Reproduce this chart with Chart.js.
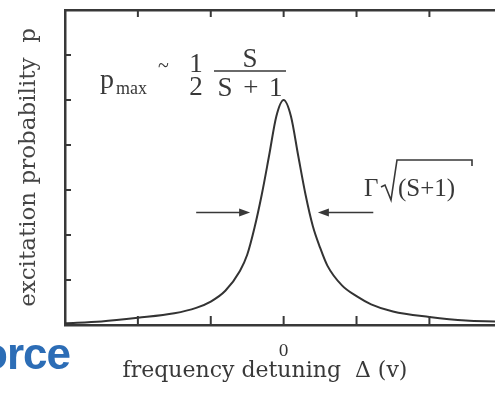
<!DOCTYPE html>
<html>
<head>
<meta charset="utf-8">
<script src="https://cdn.jsdelivr.net/npm/chart.js@4/dist/chart.umd.min.js"></script>
<style>
  html, body { margin: 0; padding: 0; background: #fff; overflow: hidden; }
  #wrap { width: 495px; height: 395px; }
</style>
</head>
<body>
<div id="wrap"><canvas id="resonance" width="495" height="395"></canvas></div>
<script>
// detuning in units of the tick spacing, probability
const detuning = [-3, -2.5, -2, -1.5, -1.2, -1, -0.8, -0.6, -0.5, -0.4, -0.3, -0.2, -0.1, 0,
                  0.1, 0.2, 0.3, 0.4, 0.5, 0.6, 0.8, 1, 1.2, 1.5, 2, 2.5, 2.9];
const probability = [0.002, 0.004, 0.008, 0.013, 0.019, 0.026, 0.038, 0.060, 0.078, 0.108, 0.145, 0.188, 0.232, 0.250,
                     0.232, 0.188, 0.145, 0.110, 0.086, 0.066, 0.044, 0.032, 0.023, 0.015, 0.009, 0.005, 0.004];
const xTickLabels = { 0: '0' };
const halfMax = 0.125;
const leftArrow = [-1.2, -0.46];   // tail, tip
const rightArrow = [1.23, 0.47];

const ink = '#383838';
const serif = '"DejaVu Serif", serif';
const times = '"Liberation Serif", "Times New Roman", serif';

const ctx = document.getElementById('resonance');

function line(c, x1, y1, x2, y2) {
    c.beginPath();
    c.moveTo(x1, y1);
    c.lineTo(x2, y2);
    c.stroke();
}

function arrow(c, x1, x2, y) {
    const dir = Math.sign(x2 - x1);
    line(c, x1, y, x2 - dir * 6, y);
    c.beginPath();
    c.moveTo(x2, y);
    c.lineTo(x2 - dir * 11, y - 4);
    c.lineTo(x2 - dir * 11, y + 4);
    c.closePath();
    c.fill();
}

function text(c, s, x, y, font, align) {
    c.font = font;
    c.textAlign = align || 'left';
    c.textBaseline = 'alphabetic';
    c.fillText(s, x, y);
}

const decorations = {
    id: 'decorations',
    afterDraw(chart) {
        const c = chart.ctx;
        const a = chart.chartArea;
        const xs = chart.scales.x;
        const ys = chart.scales.y;
        c.save();
        c.strokeStyle = ink;
        c.fillStyle = ink;

        // inward tick marks
        c.lineWidth = 2;
        xs.ticks.forEach(t => {
            if (!Number.isInteger(t.value) || t.value <= xs.min || t.value >= xs.max) return;
            const px = xs.getPixelForValue(t.value);
            line(c, px, a.bottom, px, a.bottom - 9);
            line(c, px, a.top, px, a.top + 7);
        });
        ys.ticks.forEach(t => {
            if (t.value <= ys.min + 1e-9 || t.value >= ys.max - 1e-9) return;
            const py = ys.getPixelForValue(t.value);
            line(c, a.left, py, a.left + 6, py);
        });

        // width arrows at half maximum
        c.lineWidth = 1.6;
        const hy = ys.getPixelForValue(halfMax);
        arrow(c, xs.getPixelForValue(leftArrow[0]), xs.getPixelForValue(leftArrow[1]), hy);
        arrow(c, xs.getPixelForValue(rightArrow[0]), xs.getPixelForValue(rightArrow[1]), hy);

        // p_max ~ 1/2 S/(S+1)
        text(c, 'p', 100, 88, '28px ' + times);
        text(c, 'max', 116, 94, '18px ' + times);
        text(c, '~', 158, 72, '20px ' + times);
        text(c, '1', 196, 72, '27px ' + times, 'center');
        text(c, '2', 196, 95, '27px ' + times, 'center');
        text(c, 'S', 250, 67, '27px ' + times, 'center');
        c.lineWidth = 1.5;
        line(c, 214, 71, 286, 71);
        c.letterSpacing = '2px';
        text(c, 'S + 1', 251, 96, '27px ' + times, 'center');
        c.letterSpacing = '0px';

        // Gamma sqrt(S+1)
        text(c, 'Γ', 364, 196, '25px ' + times);
        c.lineWidth = 1.6;
        c.beginPath();
        c.moveTo(381, 187);
        c.lineTo(385, 185);
        c.lineTo(391, 200);
        c.lineTo(397, 160);
        c.lineTo(472, 160);
        c.lineTo(472, 166);
        c.stroke();
        text(c, '(S+1)', 398, 196, '25px ' + times);

        // x axis title, sits a little left of the plot centre
        text(c, 'frequency detuning  Δ (v)', 265, 377, '22px ' + serif, 'center');

        // bit of the slide title peeking in
        c.fillStyle = '#2c6db6';
        c.letterSpacing = '-1px';
        text(c, 'orce', 70, 369, 'bold 44px "Liberation Sans", Arial, sans-serif', 'right');
        c.letterSpacing = '0px';
        c.restore();
    }
};

let chart = new Chart(ctx, {
    type: 'line',
    data: {
        datasets: [{
            data: detuning.map((d, i) => ({ x: d, y: probability[i] })),
            borderColor: '#333',
            borderWidth: 2,
            pointRadius: 0,
            fill: false,
            cubicInterpolationMode: 'monotone'
        }]
    },
    options: {
        responsive: false,
        animation: false,
        layout: { padding: { top: 10, right: 0, bottom: 0, left: 0 } },
        plugins: { legend: { display: false }, tooltip: { enabled: false } },
        scales: {
            x: {
                type: 'linear',
                min: -3,
                max: 2.9,
                grid: { display: false },
                border: { color: ink, width: 2.5 },
                ticks: {
                    stepSize: 1,
                    color: '#333',
                    font: { family: serif, size: 16 },
                    padding: 9,
                    maxRotation: 0,
                    callback: v => xTickLabels[v] || ''
                },
                afterFit: s => { s.height = 70; s.paddingLeft = 0; s.paddingRight = 0; }
            },
            x2: {
                type: 'linear',
                position: 'top',
                min: -3,
                max: 2.9,
                grid: { display: false },
                border: { color: ink, width: 2.5 },
                ticks: { display: false },
                afterFit: s => { s.height = 0; s.paddingLeft = 0; s.paddingRight = 0; }
            },
            y: {
                min: 0,
                max: 0.35,
                grid: { display: false },
                border: { color: ink, width: 2.5 },
                ticks: { display: false, stepSize: 0.05 },
                title: {
                    display: true,
                    text: 'excitation probability  p',
                    color: '#444',
                    font: { family: serif, size: 23 },
                    padding: { top: 15, bottom: 0 }
                },
                afterFit: s => { s.width = 65; }
            }
        }
    },
    plugins: [decorations]
});
</script>
</body>
</html>
